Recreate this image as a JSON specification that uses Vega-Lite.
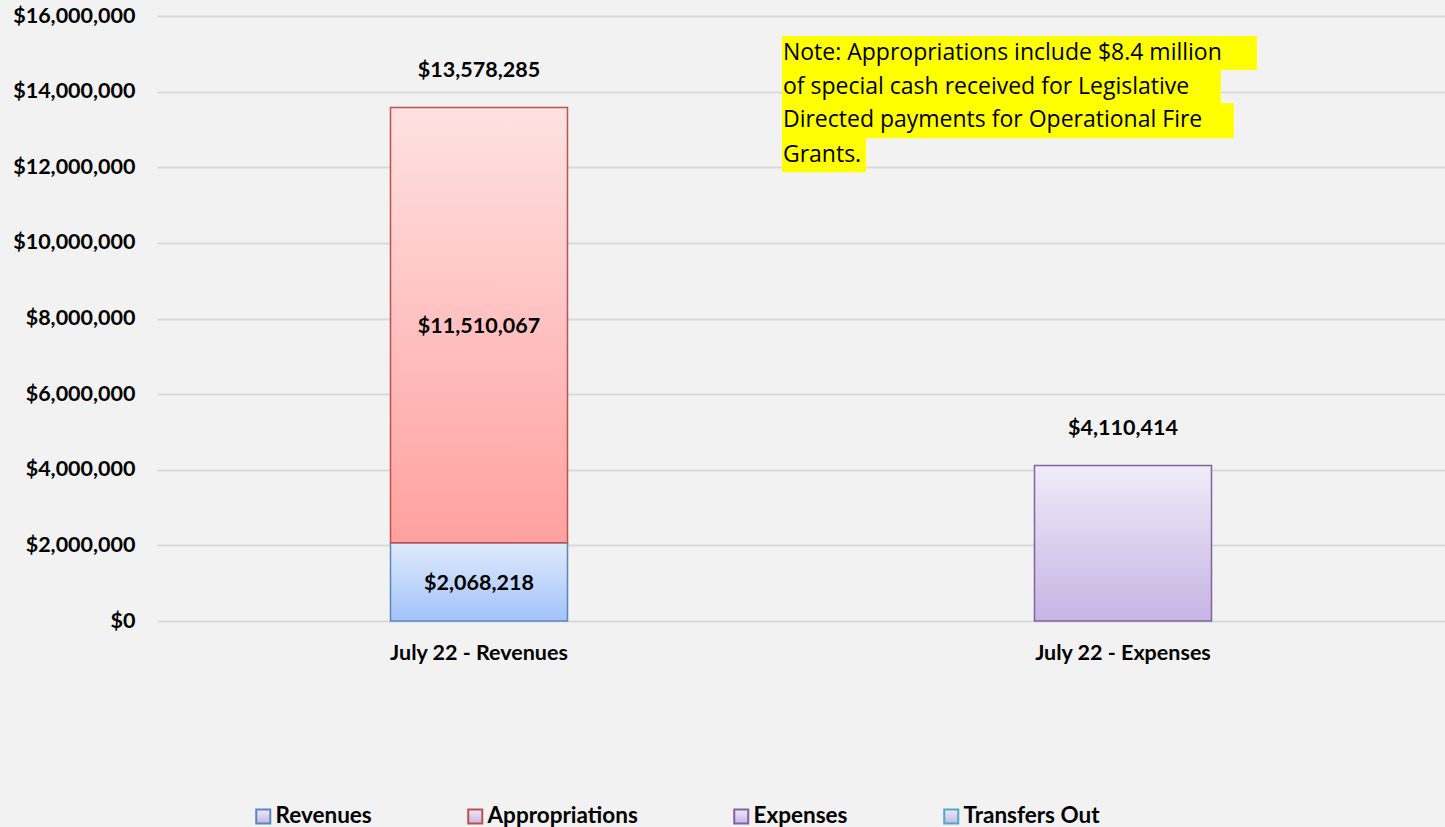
{
  "$schema": "https://vega.github.io/schema/vega-lite/v6.json",
  "width": 1288,
  "height": 605,
  "autosize": "none",
  "padding": {"left": 157, "top": 16, "right": 0, "bottom": 206},
  "background": "#f2f2f2",
  "config": {"view": {"stroke": null}, "font": "Lato"},
  "datasets": {
    "budget": [
      {"category": "July 22 - Revenues", "series": "Revenues", "amount": 2068218},
      {"category": "July 22 - Revenues", "series": "Appropriations", "amount": 11510067},
      {"category": "July 22 - Expenses", "series": "Expenses", "amount": 4110414}
    ],
    "note": [
      {"line": 1, "text": "Note: Appropriations include $8.4 million", "xStart": 0.4852, "xEnd": 0.854, "yTop": 15470000, "yBottom": 14570000},
      {"line": 2, "text": "of special cash received for Legislative", "xStart": 0.4852, "xEnd": 0.826, "yTop": 14570000, "yBottom": 13700000},
      {"line": 3, "text": "Directed payments for Operational Fire", "xStart": 0.4852, "xEnd": 0.836, "yTop": 13700000, "yBottom": 12770000},
      {"line": 4, "text": "Grants.", "xStart": 0.4852, "xEnd": 0.5505, "yTop": 12770000, "yBottom": 11870000}
    ]
  },
  "layer": [
    {
      "data": {"name": "budget"},
      "encoding": {
        "x": {
          "field": "category", "type": "nominal",
          "sort": ["July 22 - Revenues", "July 22 - Expenses"],
          "scale": {"paddingInner": 0, "paddingOuter": 0},
          "axis": {"title": null, "labelAngle": 0, "labelFont": "Lato", "labelFontWeight": "bold", "labelFontSize": 21.5, "labelColor": "#000000", "labelPadding": 21, "domain": false, "ticks": false}
        }
      },
      "layer": [
        {
          "mark": {"type": "bar", "size": 177, "strokeWidth": 1.5},
          "encoding": {
            "y": {
              "field": "amount", "type": "quantitative", "stack": "zero",
              "scale": {"domain": [0, 16000000], "nice": false},
              "axis": {"title": null, "values": [0, 2000000, 4000000, 6000000, 8000000, 10000000, 12000000, 14000000, 16000000], "format": "$,d", "labelFont": "Lato", "labelFontWeight": "bold", "labelFontSize": 21.5, "labelColor": "#000000", "labelPadding": 22, "domain": false, "ticks": false, "gridColor": "#d9d9d9", "gridWidth": 2}
            },
            "order": {"field": "series", "sort": "descending"},
            "stroke": {
              "field": "series", "type": "nominal",
              "scale": {"domain": ["Revenues", "Appropriations", "Expenses", "Transfers Out"], "range": ["#5a86c0", "#c0504d", "#8064a2", "#4bacc6"]},
              "legend": {
                "title": null, "orient": "none", "legendX": 95, "legendY": 789, "direction": "horizontal", "columns": 4,
                "symbolType": "square", "symbolSize": 196, "symbolStrokeWidth": 2, "labelOffset": 1, "columnPadding": 92,
                "labelFont": "Lato", "labelFontWeight": "bold", "labelFontSize": 22.5, "labelColor": "#000000",
                "encode": {"symbols": {"update": {"fill": {"signal": "datum.value === 'Revenues' ? '#cfe0fc' : datum.value === 'Appropriations' ? '#ffc4c4' : datum.value === 'Expenses' ? '#ddd2ef' : '#c8f0fa'"}, "fillOpacity": {"value": 1}, "strokeOpacity": {"value": 1}}}}
              }
            },
            "fill": {
              "condition": [
                {"test": "datum.series === 'Revenues'", "value": {"gradient": "linear", "x1": 0, "y1": 0, "x2": 0, "y2": 1, "stops": [{"offset": 0, "color": "#e0ebfc"}, {"offset": 1, "color": "#a2c2fa"}]}},
                {"test": "datum.series === 'Appropriations'", "value": {"gradient": "linear", "x1": 0, "y1": 0, "x2": 0, "y2": 1, "stops": [{"offset": 0, "color": "#ffe1e1"}, {"offset": 1, "color": "#ffa0a0"}]}}
              ],
              "value": {"gradient": "linear", "x1": 0, "y1": 0, "x2": 0, "y2": 1, "stops": [{"offset": 0, "color": "#f0ebf8"}, {"offset": 1, "color": "#c6b4e4"}]}
            }
          }
        },
        {
          "transform": [{"filter": "datum.series !== 'Expenses'"}],
          "mark": {"type": "text", "font": "Lato", "fontWeight": "bold", "fontSize": 21.5, "color": "#000000", "baseline": "middle", "dy": 2},
          "encoding": {
            "y": {"field": "amount", "type": "quantitative", "stack": "zero", "bandPosition": 0.5, "title": null},
            "order": {"field": "series", "sort": "descending"},
            "text": {"field": "amount", "type": "quantitative", "format": "$,d"}
          }
        },
        {
          "mark": {"type": "text", "font": "Lato", "fontWeight": "bold", "fontSize": 21.5, "color": "#000000", "baseline": "middle", "dy": -37},
          "encoding": {
            "y": {"aggregate": "sum", "field": "amount", "type": "quantitative", "title": null},
            "text": {"aggregate": "sum", "field": "amount", "type": "quantitative", "format": "$,d"}
          }
        }
      ]
    },
    {
      "data": {"name": "note"},
      "encoding": {
        "x": {"field": "xStart", "type": "quantitative", "scale": {"domain": [0, 1], "nice": false}, "axis": null}
      },
      "layer": [
        {
          "mark": {"type": "rect", "fill": "#ffff00"},
          "encoding": {
            "x2": {"field": "xEnd"},
            "y": {"field": "yTop", "type": "quantitative", "title": null},
            "y2": {"field": "yBottom"}
          }
        },
        {
          "mark": {"type": "text", "font": "Open Sans", "fontSize": 23, "color": "#000000", "align": "left", "baseline": "middle", "dx": 1, "dy": 17},
          "encoding": {
            "y": {"field": "yTop", "type": "quantitative", "title": null},
            "text": {"field": "text", "type": "nominal"}
          }
        }
      ]
    }
  ],
  "resolve": {"scale": {"x": "independent"}, "axis": {"x": "independent"}}
}
